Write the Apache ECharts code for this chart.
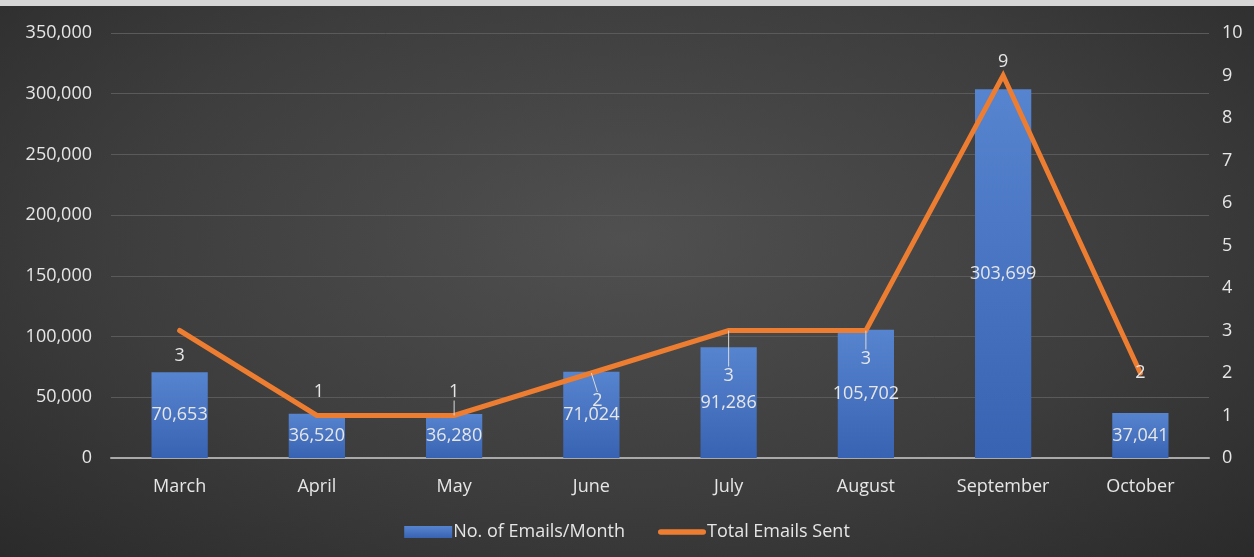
<!DOCTYPE html>
<html>
<head>
<meta charset="utf-8">
<script src="https://cdn.jsdelivr.net/npm/echarts@6/dist/echarts.min.js"></script>
<style>
  html, body { margin: 0; padding: 0; background: #d6d6d6; }
  #chart {
    position: absolute; left: 0; top: 6px; width: 1254px; height: 551px;
    background: radial-gradient(ellipse 75% 85% at 50% 42%, #505050 0%, #3d3d3d 55%, #282828 100%);
  }
</style>
</head>
<body>
<div id="chart"></div>
<script>
// Monthly email campaign figures
const months = ['March', 'April', 'May', 'June', 'July', 'August', 'September', 'October'];
const emailsPerMonth = [70653, 36520, 36280, 71024, 91286, 105702, 303699, 37041];
const totalSent = [3, 1, 1, 2, 3, 3, 9, 2];
const leftTicks = [0, 50000, 100000, 150000, 200000, 250000, 300000, 350000];
const rightTicks = [0, 1, 2, 3, 4, 5, 6, 7, 8, 9, 10];

// Offsets of the line labels relative to their points, with leader lines where moved far
const lineLabelShift = [[0, 25], [2, -24], [0, -24], [6, 28], [0, 45], [0, 28], [0, -14], [0, 0]];
const leader = [false, false, true, true, true, true, false, false];

const textColor = '#e6e6e6';
const fontFamily = '"Open Sans", "Noto Sans", sans-serif';
const fontSize = 18;

const chart = echarts.init(document.getElementById('chart'));
chart.setOption({
  backgroundColor: 'transparent',
  textStyle: { fontFamily: fontFamily },
  grid: { left: 111, right: 45, top: 27, bottom: 99 },
  legend: {
    bottom: 11,
    left: 'center',
    itemGap: 33,
    itemWidth: 48,
    itemHeight: 12,
    textStyle: { color: textColor, fontSize: fontSize, fontFamily: fontFamily, padding: [0, 0, 0, -4] },
    data: [
      { name: 'No. of Emails/Month', icon: 'rect' },
      { name: 'Total Emails Sent', icon: 'path://M3,0 L49,0 A3,3 0 0 1 49,6 L3,6 A3,3 0 0 1 3,0 Z' }
    ]
  },
  xAxis: {
    type: 'category',
    data: months,
    axisLine: { lineStyle: { color: '#a9a9a9', width: 2 } },
    axisTick: { show: false },
    axisLabel: { color: textColor, fontSize: fontSize, margin: 20 }
  },
  yAxis: [
    {
      type: 'value',
      min: leftTicks[0],
      max: leftTicks[leftTicks.length - 1],
      interval: leftTicks[1] - leftTicks[0],
      axisLine: { show: false },
      axisTick: { show: false },
      axisLabel: {
        color: textColor, fontSize: fontSize, margin: 19,
        formatter: v => v.toLocaleString('en-US')
      },
      splitLine: { lineStyle: { color: '#5a5a5a', width: 1 } }
    },
    {
      type: 'value',
      min: rightTicks[0],
      max: rightTicks[rightTicks.length - 1],
      interval: rightTicks[1] - rightTicks[0],
      axisLine: { show: false },
      axisTick: { show: false },
      axisLabel: { color: textColor, fontSize: fontSize, margin: 13 },
      splitLine: { show: false }
    }
  ],
  series: [
    {
      name: 'No. of Emails/Month',
      type: 'bar',
      yAxisIndex: 0,
      barWidth: '41%',
      itemStyle: {
        color: new echarts.graphic.LinearGradient(0, 0, 0, 1, [
          { offset: 0, color: '#5784cf' },
          { offset: 1, color: '#3863b2' }
        ])
      },
      label: {
        show: true,
        position: 'inside',
        color: textColor,
        fontSize: fontSize,
        formatter: p => p.value.toLocaleString('en-US')
      },
      data: emailsPerMonth,
      z: 2
    },
    {
      name: 'Total Emails Sent',
      type: 'line',
      yAxisIndex: 1,
      symbol: 'circle',
      symbolSize: 0.1,
      showSymbol: true,
      lineStyle: { color: '#ed7d31', width: 5, cap: 'round', join: 'miter' },
      itemStyle: { color: '#ed7d31' },
      label: {
        show: true,
        position: 'inside',
        color: textColor,
        fontSize: fontSize
      },
      labelLayout: p => ({ dx: lineLabelShift[p.dataIndex][0], dy: lineLabelShift[p.dataIndex][1] }),
      labelLine: { show: true, lineStyle: { color: '#d9d9d9', width: 1 } },
      data: totalSent.map((v, i) => ({
        value: v,
        labelLine: { show: leader[i] }
      })),
      z: 3
    }
  ]
});
</script>
</body>
</html>
